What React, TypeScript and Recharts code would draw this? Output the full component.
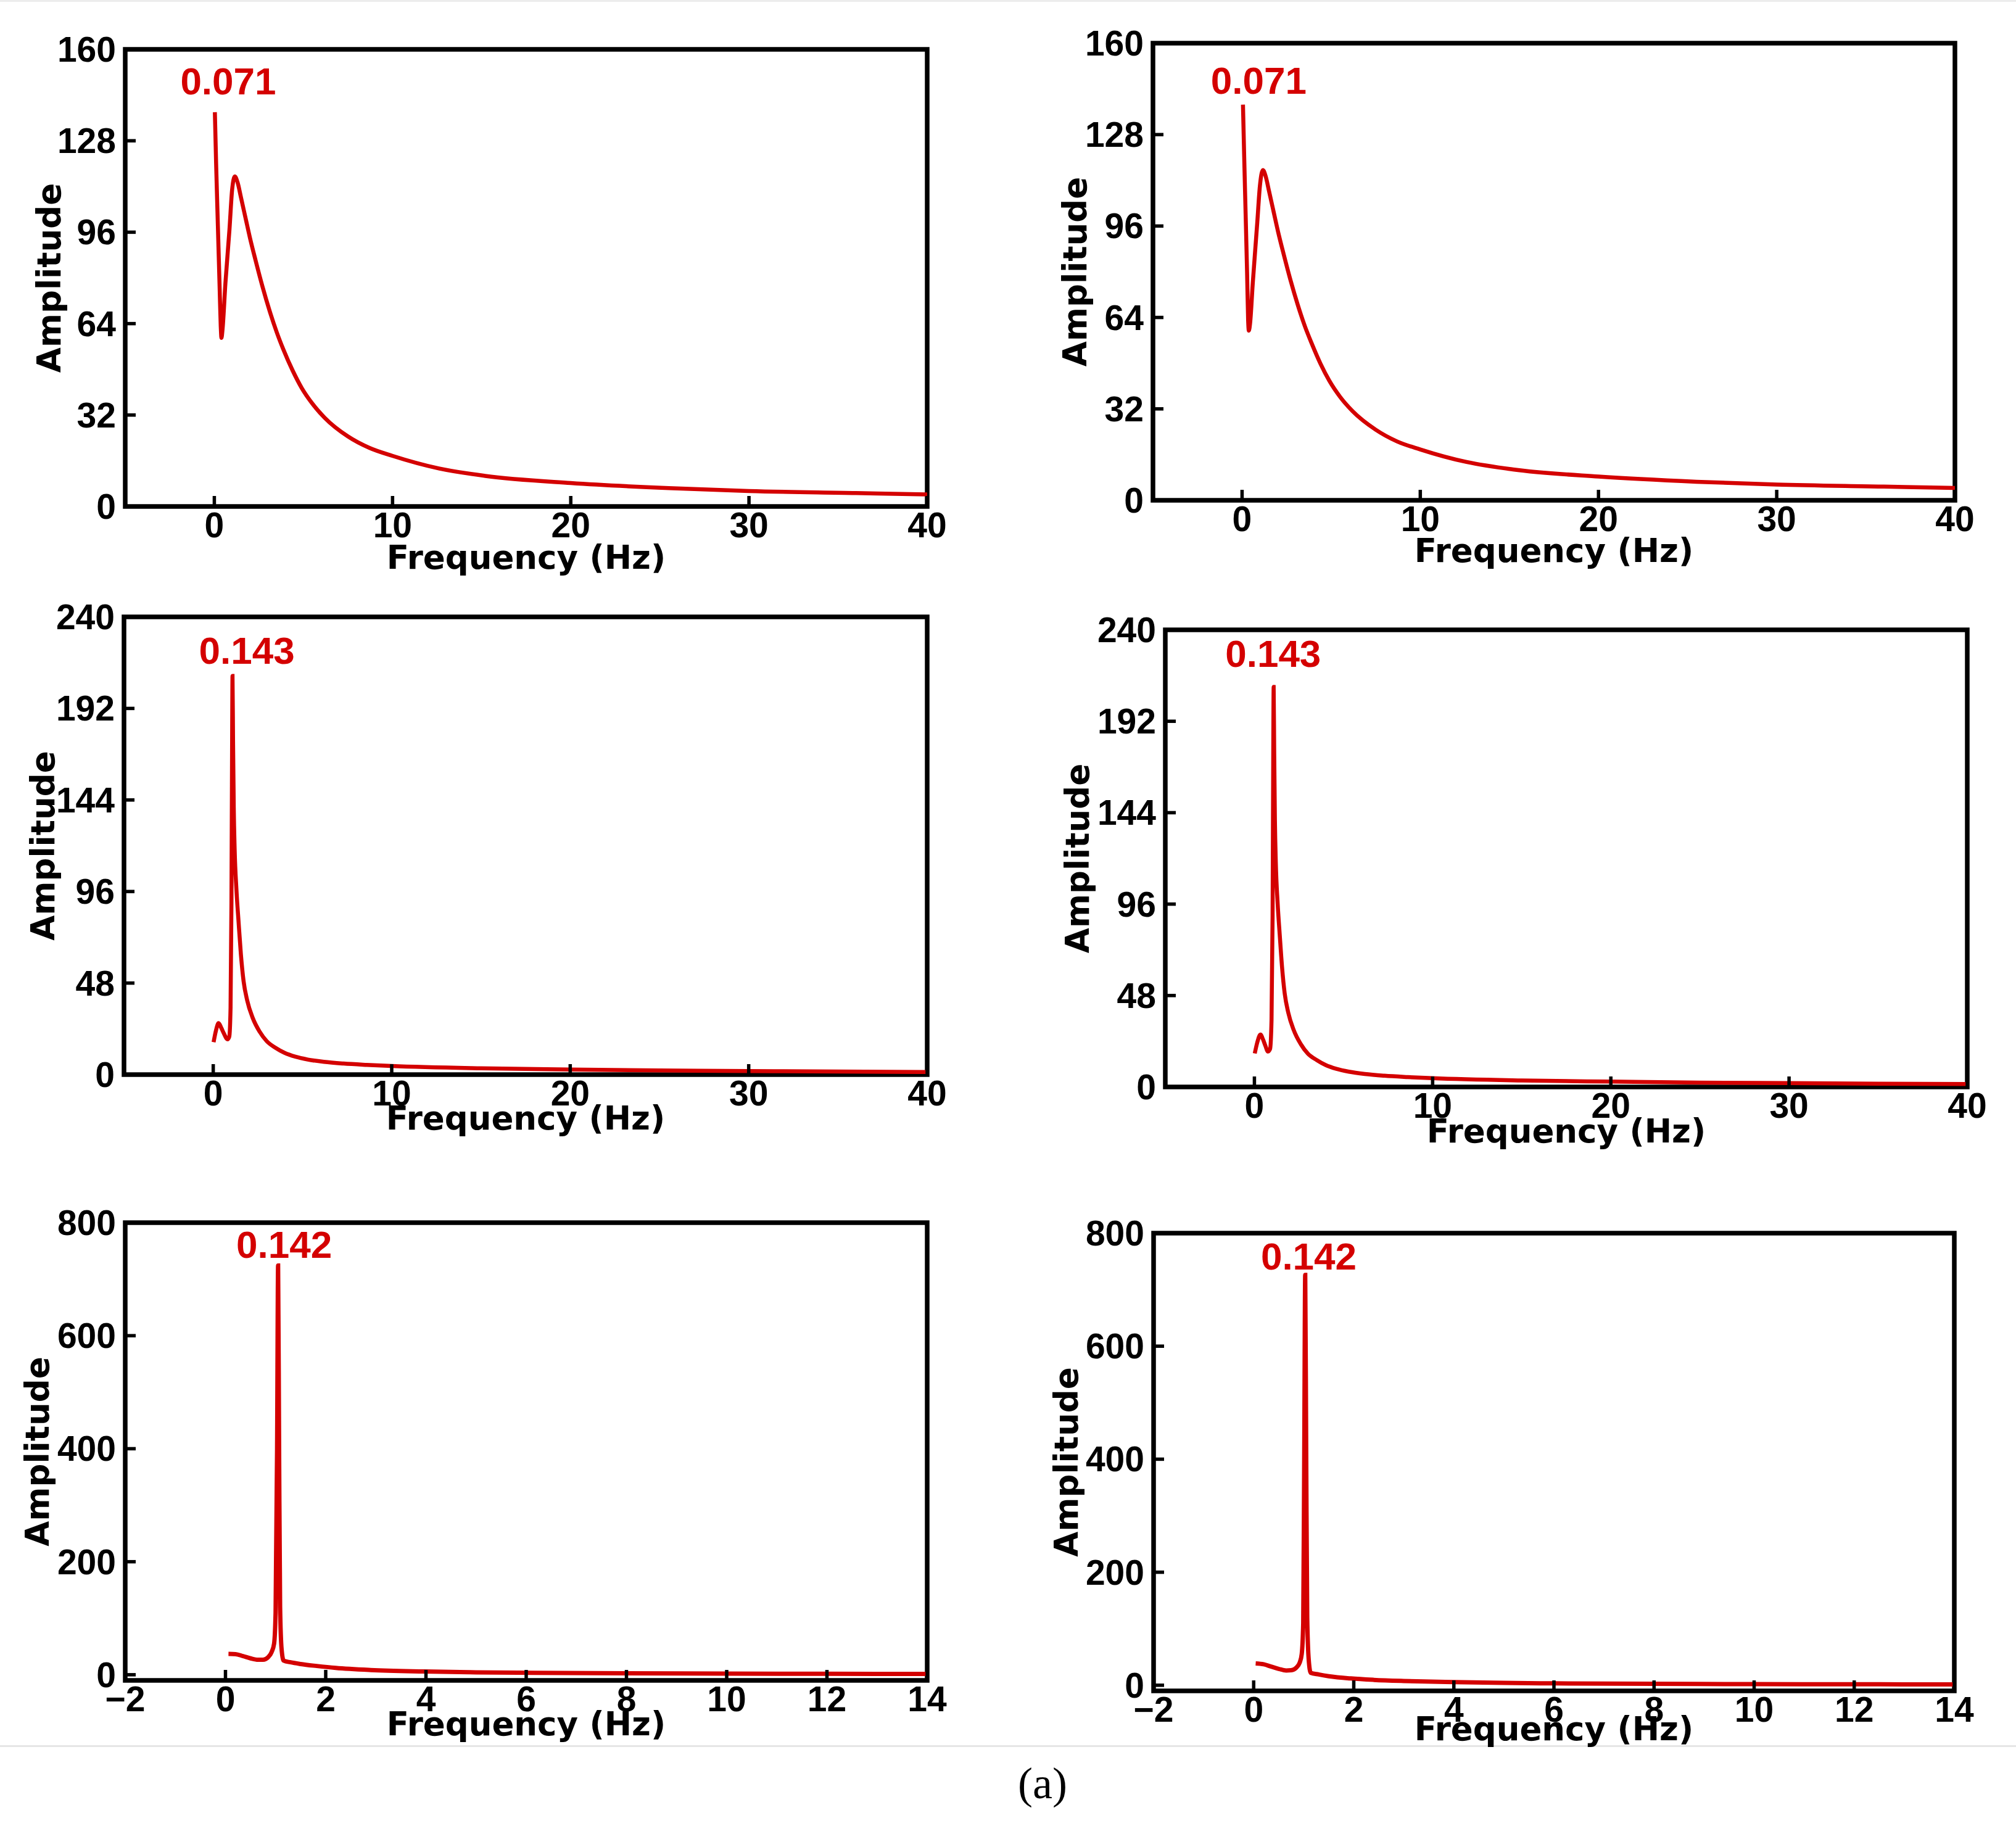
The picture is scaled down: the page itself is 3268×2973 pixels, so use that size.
import React from 'react';
import { LineChart, Line, XAxis, YAxis, ReferenceArea, ReferenceDot } from 'recharts';

// ---------- data ----------
// Top row: label 0.071
const tlFreq = [0.03, 0.1, 0.2, 0.3, 0.36, 0.4, 0.46, 0.62, 0.85, 1.0, 1.15, 1.3, 1.5, 1.75, 2.0, 2.32, 2.7, 3.1, 3.5, 3.87, 4.4, 4.9, 5.5, 6.2, 7.5, 8.7, 10, 12.6, 15.2, 20, 25.5, 30, 36, 40];
const tlAmp = [138, 120, 98, 76, 63, 59, 62, 78, 97, 111, 115.5, 113.5, 108, 101, 94, 86, 77, 68.5, 61, 55, 47.5, 41.5, 36, 31, 24.5, 20.5, 17.7, 13.3, 10.7, 8.2, 6.4, 5.4, 4.7, 4.2];
const trFreq = [0.05, 0.12, 0.2, 0.28, 0.34, 0.38, 0.45, 0.6, 0.85, 1.0, 1.17, 1.32, 1.52, 1.77, 2.02, 2.34, 2.72, 3.12, 3.52, 3.9, 4.4, 4.9, 5.5, 6.2, 7.5, 8.7, 10, 12.6, 15.2, 20, 25.5, 30, 36, 40];
const trAmp = [138.5, 120, 100, 80, 63, 59.4, 62, 76, 97, 110, 115.6, 113.5, 108, 101, 94, 86, 77, 68.5, 61, 55, 47.8, 41.8, 36.2, 31.2, 24.7, 20.6, 17.8, 13.4, 10.8, 8.3, 6.5, 5.5, 4.8, 4.3];

// Middle row: label 0.143
const mlFreq = [0.02, 0.15, 0.3, 0.45, 0.6, 0.8, 0.9, 0.97, 1.02, 1.06, 1.08, 1.11, 1.15, 1.2, 1.3, 1.42, 1.55, 1.7, 1.9, 2.2, 2.6, 3.0, 3.5, 4.0, 4.6, 5.3, 6.2, 7.3, 8.6, 10, 15, 20, 25, 30, 35, 40];
const mlAmp = [17, 23, 27, 24.5, 21.5, 18.5, 20, 35, 90, 180, 209, 175, 140, 118, 97, 80, 63, 49, 39, 30, 22.5, 17.5, 14.0, 11.4, 9.4, 7.9, 6.7, 5.8, 5.1, 4.5, 3.3, 2.7, 2.2, 1.9, 1.6, 1.4];
const mrFreq = [0.02, 0.15, 0.34, 0.48, 0.62, 0.76, 0.88, 0.96, 1.02, 1.06, 1.08, 1.11, 1.15, 1.2, 1.3, 1.42, 1.55, 1.7, 1.9, 2.2, 2.6, 3.0, 3.5, 4.0, 4.6, 5.3, 6.2, 7.3, 8.6, 10, 15, 20, 25, 30, 35, 40];
const mrAmp = [17.6, 23, 27.5, 25, 21.5, 18.6, 20, 35, 90, 182, 210, 176, 140, 118, 97, 80, 63, 49, 39, 30, 22.5, 17.5, 14.1, 11.5, 9.5, 8.0, 6.8, 5.9, 5.2, 4.6, 3.4, 2.8, 2.3, 2.0, 1.7, 1.5];

// Bottom row: label 0.142
const blFreq = [0.06, 0.2, 0.35, 0.5, 0.65, 0.75, 0.85, 0.92, 0.97, 1.0, 1.03, 1.05, 1.07, 1.09, 1.12, 1.16, 1.3, 1.5, 1.82, 2.2, 2.9, 3.96, 5, 6.16, 8, 10, 12, 14];
const blAmp = [37, 36.5, 33, 29, 26.5, 26.5, 31, 40, 55, 110, 400, 724, 400, 120, 45, 25, 22, 19, 15.5, 12, 8.3, 5.8, 4.3, 3.3, 2.5, 2.0, 1.7, 1.5];
const brFreq = [0.04, 0.2, 0.35, 0.5, 0.65, 0.75, 0.85, 0.92, 0.96, 0.99, 1.01, 1.03, 1.05, 1.07, 1.1, 1.14, 1.3, 1.5, 1.94, 2.4, 3, 4, 5, 6, 8, 10, 12, 14];
const brAmp = [38.6, 37, 33, 29, 26, 26.5, 31, 40, 55, 110, 400, 726, 400, 120, 45, 22, 19, 16, 12, 9.5, 7.5, 5.5, 4.2, 3.3, 2.5, 2.0, 1.7, 1.5];

// ticks
const xTicks40 = [0, 10, 20, 30, 40];
const xTicks14 = [-2, 0, 2, 4, 6, 8, 10, 12, 14];
const yTicksTop = [0, 32, 64, 96, 128, 160];
const yTicksMid = [0, 48, 96, 144, 192, 240];
const yTicksBot = [0, 200, 400, 600, 800];

// peak annotations
const peakText = ['0.071', '0.071', '0.143', '0.143', '0.142', '0.142'];
const peakTextFreq = [0.78, 0.93, 1.88, 1.05, 1.17, 1.1];
const peakTextAmp = [149, 147, 222.5, 227.7, 762, 760];

// ---------- styling ----------
const RED = '#d40000';
const TICK_FONT = '"Liberation Sans", Arial, Helvetica, sans-serif';
const TITLE_FONT = '"DejaVu Sans", Verdana, sans-serif';
const TICK_LEN = 17;
const ML = 200;
const MT = 60;
const MR = 50;
const XH = 130;

const fmt = (v: number) => (v < 0 ? `\u2212${Math.abs(v)}` : String(v));
const toData = (f: number[], a: number[]) => f.map((x, i) => ({ f: x, a: a[i] }));

type PanelProps = {
  l: number; t: number; w: number; h: number;
  data: { f: number; a: number }[];
  xDomain: [number, number]; xTicks: number[];
  yDomain: [number, number]; yTicks: number[];
  idx: number;
  yTitleOff: number; xTitleOff: number;
  sw: number;
};

function Panel(p: PanelProps) {
  const width = p.w + ML + MR;
  const height = p.h + MT + XH;
  const xTick = (props: any) => {
    const { x, y, payload } = props;
    return (
      <g>
        <line x1={x} y1={y} x2={x} y2={y - TICK_LEN} stroke="#000" strokeWidth={5.5} />
        <text x={x} y={y + 50} textAnchor="middle" fontFamily={TICK_FONT} fontWeight="bold" fontSize={57} fill="#000">
          {fmt(payload.value)}
        </text>
      </g>
    );
  };
  const yTick = (props: any) => {
    const { x, y, payload } = props;
    return (
      <g>
        <line x1={x} y1={y} x2={x + TICK_LEN} y2={y} stroke="#000" strokeWidth={5.5} />
        <text x={x - 15} y={y + 20} textAnchor="end" fontFamily={TICK_FONT} fontWeight="bold" fontSize={57} fill="#000">
          {fmt(payload.value)}
        </text>
      </g>
    );
  };
  const xLabel = (props: any) => {
    const vb = props.viewBox || {};
    return (
      <text x={vb.x + vb.width / 2} y={vb.y + p.xTitleOff} textAnchor="middle" fontFamily={TITLE_FONT} fontWeight="bold" fontSize={53} fill="#000">
        Frequency (Hz)
      </text>
    );
  };
  const yLabel = (props: any) => {
    const vb = props.viewBox || {};
    const cx = vb.x + vb.width - p.yTitleOff;
    const cy = vb.y + vb.height / 2;
    return (
      <text x={cx} y={cy} transform={`rotate(-90 ${cx} ${cy})`} textAnchor="middle" dominantBaseline="central" fontFamily={TITLE_FONT} fontWeight="bold" fontSize={53} fill="#000">
        Amplitude
      </text>
    );
  };
  return (
    <div style={{ position: 'absolute', left: p.l - ML, top: p.t - MT }}>
      <LineChart width={width} height={height} data={p.data} margin={{ top: MT, right: MR, bottom: 0, left: 0 }}>
        <XAxis
          type="number"
          dataKey="f"
          domain={p.xDomain}
          ticks={p.xTicks}
          interval={0}
          allowDataOverflow
          axisLine={false}
          tickLine={false}
          tickSize={0}
          tickMargin={0}
          height={XH}
          tick={xTick}
          label={xLabel}
        />
        <YAxis
          type="number"
          domain={p.yDomain}
          ticks={p.yTicks}
          interval={0}
          allowDataOverflow
          axisLine={false}
          tickLine={false}
          tickSize={0}
          tickMargin={0}
          width={ML}
          tick={yTick}
          label={yLabel}
        />
        <Line dataKey="a" type="monotone" stroke={RED} strokeWidth={p.sw} dot={false} activeDot={false} isAnimationActive={false} />
        <ReferenceArea
          x1={p.xDomain[0]}
          x2={p.xDomain[1]}
          y1={p.yDomain[0]}
          y2={p.yDomain[1]}
          fill="none"
          fillOpacity={0}
          stroke="#000"
          strokeWidth={7.5}
          ifOverflow="visible"
        />
        <ReferenceDot
          x={peakTextFreq[p.idx]}
          y={peakTextAmp[p.idx]}
          r={0}
          fill="none"
          stroke="none"
          ifOverflow="visible"
          label={{ value: peakText[p.idx], position: 'center', fill: RED, fontSize: 62, fontWeight: 'bold', fontFamily: TICK_FONT }}
        />
      </LineChart>
    </div>
  );
}

export default function App() {
  return (
    <div style={{ position: 'absolute', left: 0, top: 0, width: 3268, height: 2973, background: '#fff', overflow: 'hidden' }}>
      <svg width={3268} height={2973} style={{ position: 'absolute', left: 0, top: 0 }}>
        <rect x={0} y={0} width={3268} height={3} fill="#ececec" />
        <rect x={0} y={2829} width={3268} height={3} fill="#e6e6e6" />
        <text x={1690} y={2915} textAnchor="middle" fontFamily='"Liberation Serif", "Times New Roman", serif' fontSize={72} fill="#000">
          (a)
        </text>
      </svg>
      <Panel l={203} t={80} w={1300} h={741} data={toData(tlFreq, tlAmp)} xDomain={[-5, 40]} xTicks={xTicks40} yDomain={[0, 160]} yTicks={yTicksTop} idx={0} yTitleOff={124} xTitleOff={101} sw={6.5} />
      <Panel l={1869} t={70} w={1300} h={741} data={toData(trFreq, trAmp)} xDomain={[-5, 40]} xTicks={xTicks40} yDomain={[0, 160]} yTicks={yTicksTop} idx={1} yTitleOff={127} xTitleOff={100} sw={6.5} />
      <Panel l={201} t={1000} w={1302} h={742} data={toData(mlFreq, mlAmp)} xDomain={[-5, 40]} xTicks={xTicks40} yDomain={[0, 240]} yTicks={yTicksMid} idx={2} yTitleOff={132} xTitleOff={89} sw={6.5} />
      <Panel l={1889} t={1021} w={1300} h={741} data={toData(mrFreq, mrAmp)} xDomain={[-5, 40]} xTicks={xTicks40} yDomain={[0, 240]} yTicks={yTicksMid} idx={3} yTitleOff={143} xTitleOff={90} sw={6.5} />
      <Panel l={203} t={1982} w={1300} h={742} data={toData(blFreq, blAmp)} xDomain={[-2, 14]} xTicks={xTicks14} yDomain={[-10, 800]} yTicks={yTicksBot} idx={4} yTitleOff={143} xTitleOff={89} sw={7} />
      <Panel l={1870} t={1999} w={1298} h={742} data={toData(brFreq, brAmp)} xDomain={[-2, 14]} xTicks={xTicks14} yDomain={[-10, 800]} yTicks={yTicksBot} idx={5} yTitleOff={142} xTitleOff={80} sw={7} />
    </div>
  );
}
